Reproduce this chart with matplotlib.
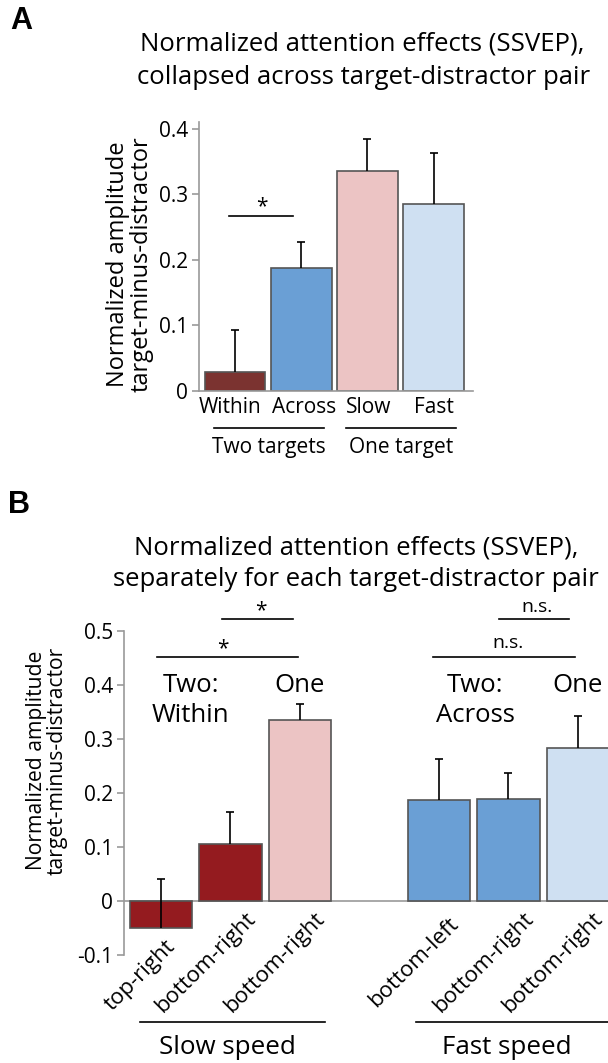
import matplotlib
matplotlib.use("Agg")
import matplotlib.pyplot as plt
import numpy as np

plt.rcParams['font.family'] = ['Open Sans', 'DejaVu Sans']

# panel A data
a_labels = ["Within", "Across", "Slow", "Fast"]
a_values = [0.029, 0.188, 0.336, 0.285]
a_errors = [0.064, 0.039, 0.049, 0.078]
a_colors = ["#7b3330", "#6a9fd5", "#ecc4c4", "#cfe0f2"]
a_groups = ["Two targets", "One target"]

# panel B data
b_positions = [0, 1, 2, 4, 5, 6]
b_labels = ["top-right", "bottom-right", "bottom-right",
            "bottom-left", "bottom-right", "bottom-right"]
b_values = [-0.05, 0.105, 0.336, 0.187, 0.189, 0.284]
b_errors = [0.091, 0.060, 0.028, 0.076, 0.048, 0.059]
b_colors = ["#941b1f", "#941b1f", "#ecc4c4", "#6a9fd5", "#6a9fd5", "#cfe0f2"]
b_groups = ["Slow speed", "Fast speed"]

W, H = 608, 1063
fig = plt.figure(figsize=(W / 100, H / 100), dpi=100)

def px_axes(x0, x1, y_bottom, y_top):
    return fig.add_axes([x0 / W, 1 - y_bottom / H, (x1 - x0) / W, (y_bottom - y_top) / H])

def up_errors(ax, x, v, e, cap):
    x = np.asarray(x, dtype=float)
    top = np.asarray(v) + np.asarray(e)
    ax.vlines(x, v, top, color="black", lw=1.2, zorder=3)
    ax.hlines(top, x - cap, x + cap, color="black", lw=1.2, zorder=3)

edge = "#555555"
spine_c = "#999999"

# ---------------- panel A ----------------
axA = px_axes(199, 473, 391, 122.4)
xa = np.arange(len(a_values))
axA.bar(xa, a_values, width=0.92, color=a_colors, edgecolor=edge, linewidth=1.2, zorder=2)
up_errors(axA, xa, a_values, a_errors, 0.06)
axA.set_xlim(-0.544, 3.595)
axA.set_ylim(0, 0.41)
axA.set_yticks([0, 0.1, 0.2, 0.3, 0.4])
axA.set_yticklabels(["0", "0.1", "0.2", "0.3", "0.4"])
axA.set_xticks(xa + np.array([-0.08, 0.04, 0.02, 0.0]))
axA.set_xticklabels(a_labels, fontsize=15)
axA.tick_params(axis="x", length=0, pad=4)
axA.tick_params(axis="y", direction="out", length=5, width=1.2, color=spine_c, labelsize=15, pad=3)
for s in ["top", "right"]:
    axA.spines[s].set_visible(False)
for s in ["left", "bottom"]:
    axA.spines[s].set_color(spine_c)
    axA.spines[s].set_linewidth(1.2)
axA.text(-0.252, 0.473, "Normalized amplitude\ntarget-minus-distractor", transform=axA.transAxes,
         rotation=90, ha="center", va="center", fontsize=17, linespacing=0.95)

# significance
axA.plot([-0.09, 0.875], [0.267, 0.267], color="black", lw=1.2)
axA.text(0.41, 0.282, "*", ha="center", va="center", fontsize=15)

# group lines
tA = axA.get_xaxis_transform()
for (x0, x1), lab in zip([(-0.32, 1.34), (1.68, 3.34)], a_groups):
    axA.plot([x0, x1], [-0.138, -0.138], color="black", lw=1.2, transform=tA, clip_on=False)
    axA.text((x0 + x1) / 2, -0.212, lab, transform=tA, ha="center", va="center", fontsize=15)

fig.text(362 / W, 1 - 44 / H, "Normalized attention effects (SSVEP),", ha="center", va="center", fontsize=18.5)
fig.text(364 / W, 1 - 77 / H, "collapsed across target-distractor pair", ha="center", va="center", fontsize=18.5)
fig.text(10 / W, 1 - 21 / H, "A", ha="left", va="center", fontsize=22, fontweight="bold",
         family=["Liberation Sans", "DejaVu Sans"])

# ---------------- panel B ----------------
axB = px_axes(124, 616, 955, 631)
axB.bar(b_positions, b_values, width=0.9, color=b_colors, edgecolor=edge, linewidth=1.2, zorder=2)
up_errors(axB, b_positions, b_values, b_errors, 0.058)
axB.axhline(0, color=spine_c, lw=1.2, zorder=1)
axB.set_xlim(-0.532, 6.55)
axB.set_ylim(-0.1, 0.5)
axB.set_yticks([-0.1, 0, 0.1, 0.2, 0.3, 0.4, 0.5])
axB.set_yticklabels(["-0.1", "0", "0.1", "0.2", "0.3", "0.4", "0.5"])
axB.set_xticks([])
axB.tick_params(axis="y", direction="out", length=5, width=1.2, color=spine_c, labelsize=15, pad=3)
for s in ["top", "right", "bottom"]:
    axB.spines[s].set_visible(False)
axB.spines["left"].set_color(spine_c)
axB.spines["left"].set_linewidth(1.2)
axB.text(-0.157, 0.6, "Normalized amplitude\ntarget-minus-distractor", transform=axB.transAxes,
         rotation=90, ha="center", va="center", fontsize=15.2, linespacing=0.95)

# rotated bar labels (the short first one sits a bit lower, clear of the negative bar)
for i, (x, lab) in enumerate(zip(b_positions, b_labels)):
    dx, y = (-0.3, -0.138) if i == 0 else (-0.36, -0.114)
    axB.text(x + dx, y, lab, rotation=45, ha="center", va="center",
             rotation_mode="anchor", fontsize=16, clip_on=False)

# significance lines
axB.plot([0.88, 1.9], [0.522, 0.522], color="black", lw=1.2, clip_on=False)
axB.text(1.44, 0.537, "*", ha="center", va="center", fontsize=15, clip_on=False)
axB.plot([-0.06, 1.97], [0.452, 0.452], color="black", lw=1.2, clip_on=False)
axB.text(0.89, 0.467, "*", ha="center", va="center", fontsize=15, clip_on=False)
axB.plot([4.86, 5.88], [0.522, 0.522], color="black", lw=1.2, clip_on=False)
axB.text(5.42, 0.545, "n.s.", ha="center", va="center", fontsize=14, clip_on=False)
axB.plot([3.91, 5.96], [0.452, 0.452], color="black", lw=1.2, clip_on=False)
axB.text(5.0, 0.478, "n.s.", ha="center", va="center", fontsize=14, clip_on=False)

axB.text(0.43, 0.40, "Two:", ha="center", va="center", fontsize=18.5)
axB.text(0.43, 0.344, "Within", ha="center", va="center", fontsize=18.5)
axB.text(2.0, 0.40, "One", ha="center", va="center", fontsize=18.5)
axB.text(4.52, 0.40, "Two:", ha="center", va="center", fontsize=18.5)
axB.text(4.52, 0.344, "Across", ha="center", va="center", fontsize=18.5)
axB.text(6.0, 0.40, "One", ha="center", va="center", fontsize=18.5)

tB = axB.get_xaxis_transform()
for (x0, x1), xc, lab in zip([(-0.30, 2.36), (3.67, 6.7)], [0.96, 4.98], b_groups):
    axB.plot([x0, x1], [-0.207, -0.207], color="black", lw=1.2, transform=tB, clip_on=False)
    axB.text(xc, -0.284, lab, transform=tB, ha="center", va="center", fontsize=18.7)

fig.text(356 / W, 1 - 548 / H, "Normalized attention effects (SSVEP),", ha="center", va="center", fontsize=18.5)
fig.text(356 / W, 1 - 579 / H, "separately for each target-distractor pair", ha="center", va="center", fontsize=18.5)
fig.text(8 / W, 1 - 505 / H, "B", ha="left", va="center", fontsize=22, fontweight="bold",
         family=["Liberation Sans", "DejaVu Sans"])

fig.savefig("out.png", dpi=100)
